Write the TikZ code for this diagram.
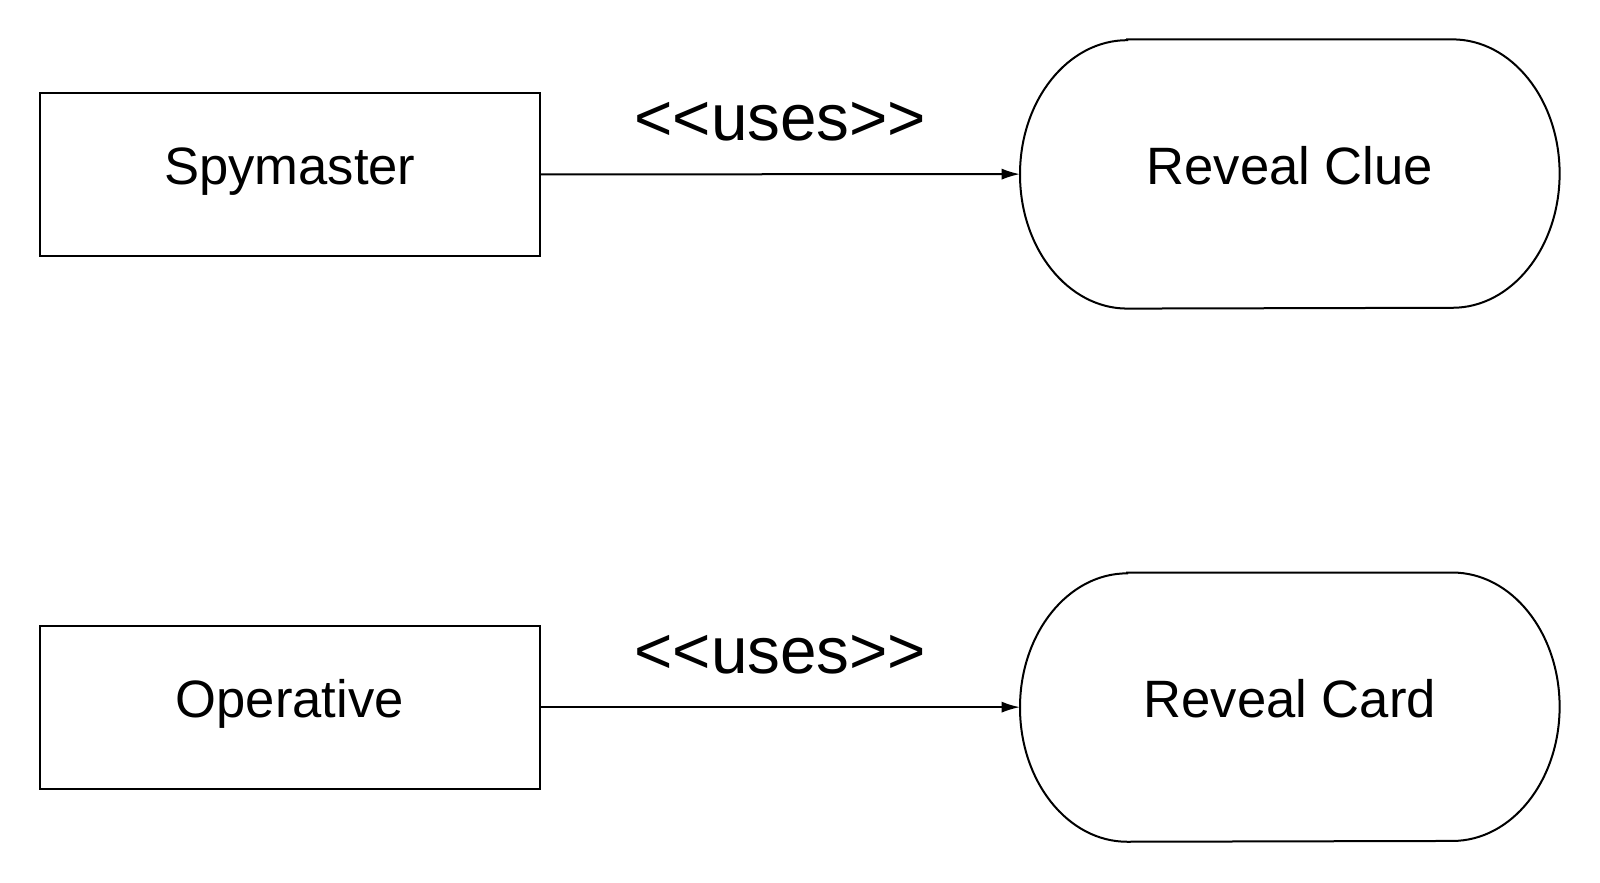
\documentclass[tikz,border=0pt]{standalone}
\usepackage{fontspec}
\setmainfont{Liberation Sans}
\usetikzlibrary{arrows.meta}

\tikzset{
  actor/.style={draw, line width=1pt, minimum width=250pt, minimum height=81.6pt, inner sep=0pt,
    font=\fontsize{26.3}{31}\selectfont, text height=18pt, text depth=7.5pt},
  usecase/.style={minimum width=269.4pt, minimum height=134.2pt, inner sep=0pt,
    font=\fontsize{26.3}{31}\selectfont, text height=18pt, text depth=7.5pt},
  uses/.style={font=\fontsize{32.8}{39}\selectfont, inner sep=0pt, anchor=base},
  assoc/.style={line width=1pt, -{Latex[length=9.2pt,width=5.6pt]}},
}

% oval outline round a use case node
\newcommand{\ovalcase}[1]{%
  \draw[line width=1pt] ([xshift=53.6pt]#1.north west) -- ([xshift=-53.6pt]#1.north east)
    arc[start angle=90, end angle=-90, x radius=53.6pt, y radius=67.1pt]
    -- ([xshift=53.6pt]#1.south west)
    arc[start angle=270, end angle=90, x radius=53.6pt, y radius=67.1pt] -- cycle;}

\begin{document}
\begin{tikzpicture}[x=0.5102pt, y=-0.5102pt]
\useasboundingbox (0,0) rectangle (1568,865.3);

\node[actor] (spy) at (284,171) {Spymaster};
\node[actor] (op) at (284,693) {Operative};

\node[usecase] (clue) at (1264,170.5) {Reveal Clue};
\node[usecase] (card) at (1264,693) {Reveal Card};
\ovalcase{clue}
\ovalcase{card}

\draw[assoc] (spy) -- node[midway, uses, yshift=16.8pt] (usesclue) {<{}<uses>{}>} (clue);
\draw[assoc] (op) -- node[midway, uses, yshift=16.8pt] (usescard) {<{}<uses>{}>} (card);
\end{tikzpicture}
\end{document}
